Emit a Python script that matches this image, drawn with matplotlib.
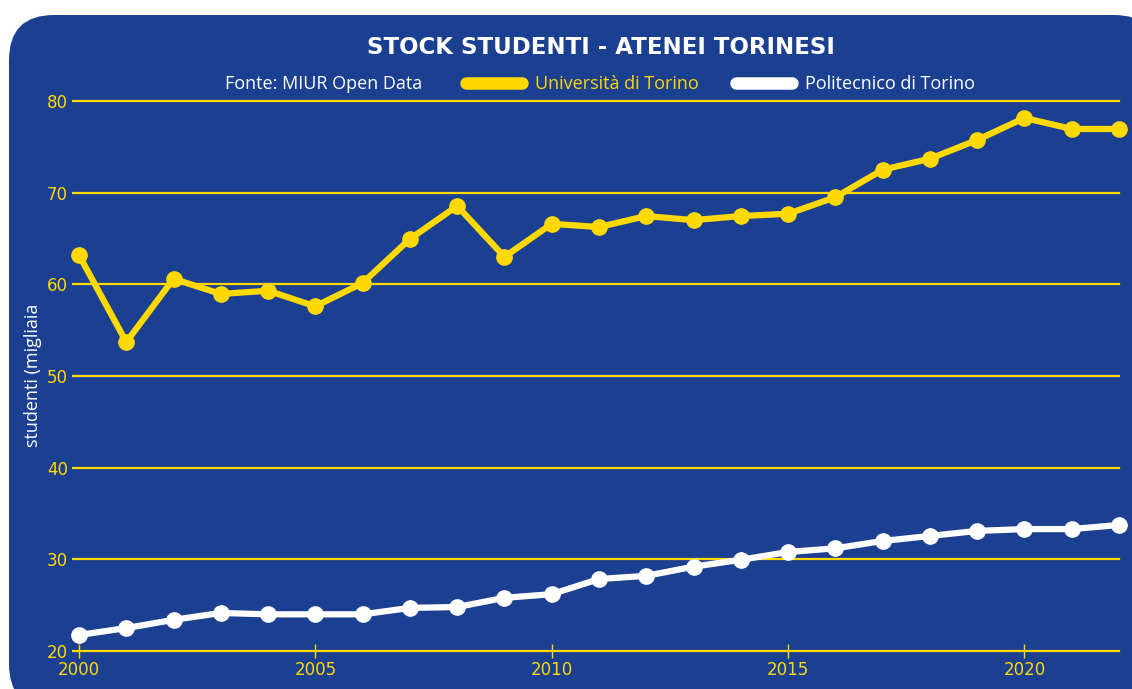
import matplotlib.pyplot as plt
from matplotlib.patches import FancyBboxPatch
from matplotlib.lines import Line2D
from matplotlib.transforms import IdentityTransform

# anni e studenti (migliaia)
anni = list(range(2000, 2023))
unito = [63.2, 53.7, 60.6, 58.95, 59.3, 57.6, 60.15, 64.95, 68.55, 63.0, 66.6, 66.25,
         67.45, 67.0, 67.45, 67.7, 69.5, 72.5, 73.7, 75.75, 78.15, 76.95, 76.95]
polito = [21.75, 22.5, 23.4, 24.15, 24.0, 24.0, 24.0, 24.7, 24.8, 25.8, 26.2, 27.85,
          28.2, 29.2, 29.95, 30.8, 31.2, 32.0, 32.55, 33.1, 33.3, 33.3, 33.75]
xticks = [2000, 2005, 2010, 2015, 2020]
yticks = [20, 30, 40, 50, 60, 70, 80]

BLU = '#1b3f91'
GIALLO = '#ffd900'
BIANCO = '#ffffff'

plt.rcParams['font.family'] = ['Open Sans', 'DejaVu Sans']

fig = plt.figure(figsize=(11.32, 6.89), dpi=100)
fig.patch.set_facecolor('white')

# sfondo blu arrotondato
sfondo = FancyBboxPatch((9, -20), 1150, 694, boxstyle='round,pad=0,rounding_size=45',
                        transform=IdentityTransform(), facecolor=BLU, edgecolor='none',
                        zorder=-10)
fig.patches.append(sfondo)

ax = fig.add_axes([79 / 1132, 38 / 689, 1040 / 1132, 550 / 689])
ax.set_facecolor('none')
ax.set_xlim(2000, 2022)
ax.set_ylim(20, 80)

for y in yticks:
    ax.axhline(y, color=GIALLO, lw=1.6, zorder=1, clip_on=False)

ax.plot(anni, unito, color=GIALLO, lw=4.5, marker='o', ms=11, clip_on=False, zorder=3)
ax.plot(anni, polito, color=BIANCO, lw=4.5, marker='o', ms=11, clip_on=False, zorder=3)

for s in ax.spines.values():
    s.set_visible(False)
ax.set_xticks(xticks)
ax.set_yticks(yticks)
ax.tick_params(axis='x', colors=GIALLO, direction='inout', length=10, width=1, labelsize=12, pad=2)
ax.tick_params(axis='y', colors=GIALLO, length=5, width=1.6, labelsize=12, pad=3)
for lab in ax.get_xticklabels() + ax.get_yticklabels():
    lab.set_fontfamily('DejaVu Sans')

fig.text(33 / 1132, 1 - 375 / 689, 'studenti (migliaia', rotation=90, color=BIANCO,
         fontsize=13, ha='center', va='center')

# titolo e legenda
fig.text(601 / 1132, 1 - 47 / 689, 'STOCK STUDENTI - ATENEI TORINESI', color=BIANCO,
         fontsize=16.5, fontweight='bold', family='DejaVu Sans', ha='center', va='center')

ly = 1 - 84 / 689
fig.text(324 / 1132, ly, 'Fonte: MIUR Open Data', color=BIANCO,
         fontsize=13, ha='center', va='center')
fig.add_artist(Line2D([466 / 1132, 522 / 1132], [ly + 1 / 689, ly + 1 / 689], color=GIALLO,
                      lw=9, solid_capstyle='round', transform=fig.transFigure))
fig.text(535 / 1132, ly, 'Università di Torino', color=GIALLO, fontsize=13, va='center')
fig.add_artist(Line2D([736 / 1132, 792 / 1132], [ly + 1 / 689, ly + 1 / 689], color=BIANCO,
                      lw=9, solid_capstyle='round', transform=fig.transFigure))
fig.text(805 / 1132, ly, 'Politecnico di Torino', color=BIANCO, fontsize=13, va='center')

fig.savefig('out.png', dpi=100, facecolor=fig.get_facecolor())
